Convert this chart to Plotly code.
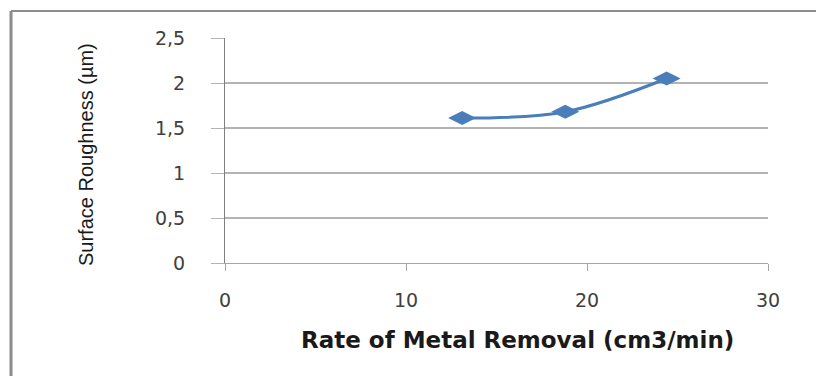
import plotly.graph_objects as go

# Measured series
removal_rate = [13.1, 18.8, 24.4]          # cm3/min
roughness = [1.61, 1.68, 2.05]             # µm

x_ticks = [0, 10, 20, 30]
y_ticks = [0, 0.5, 1, 1.5, 2, 2.5]
y_tick_text = ["0", "0,5", "1", "1,5", "2", "2,5"]

x_title = "Rate of Metal Removal (cm3/min)"
y_title = "Surface Roughness (µm)"

W, H = 816, 376
ML, MR, MT, MB = 225, 48, 38, 113
PW, PH = W - ML - MR, H - MT - MB


def px_to_paper_x(px):
    return (px - ML) / PW


def px_to_paper_y(py):
    return (H - MB - py) / PH


fig = go.Figure()
fig.add_trace(go.Scatter(
    x=removal_rate,
    y=roughness,
    mode="lines+markers",
    line=dict(color="#4a7ebb", width=3, shape="spline"),
    marker=dict(symbol="diamond-wide", size=20, color="#4a7ebb",
                line=dict(width=0)),
    showlegend=False,
    hoverinfo="skip",
))

tick_font = dict(family="DejaVu Sans", size=19, color="#404040")

fig.update_xaxes(
    range=[0, 30],
    tickvals=x_ticks,
    showgrid=False,
    zeroline=False,
    showline=True,
    linecolor="#a6a6a6",
    linewidth=1,
    ticks="outside",
    ticklen=7,
    tickcolor="#a6a6a6",
    tickfont=tick_font,
    ticklabelstandoff=13,
    fixedrange=True,
)
fig.update_yaxes(
    range=[0, 2.5],
    tickvals=y_ticks,
    ticktext=y_tick_text,
    showgrid=True,
    gridcolor="#b4b4b4",
    gridwidth=1.5,
    zeroline=False,
    showline=True,
    linecolor="#7f7f7f",
    linewidth=1,
    ticks="outside",
    ticklen=13,
    tickcolor="#b4b4b4",
    tickfont=tick_font,
    ticklabelstandoff=22,
    fixedrange=True,
)

fig.update_layout(
    width=W,
    height=H,
    margin=dict(l=ML, r=MR, t=MT, b=MB, pad=0),
    paper_bgcolor="white",
    plot_bgcolor="white",
    annotations=[
        dict(text=f"<b>{x_title}</b>", xref="paper", yref="paper",
             x=px_to_paper_x(517), y=px_to_paper_y(340),
             xanchor="center", yanchor="middle", showarrow=False,
             font=dict(family="DejaVu Sans", size=23, color="#1a1a1a")),
        dict(text=y_title, xref="paper", yref="paper",
             x=px_to_paper_x(86), y=px_to_paper_y(155),
             xanchor="center", yanchor="middle", showarrow=False,
             textangle=-90,
             font=dict(family="Liberation Sans", size=20, color="#1a1a1a")),
    ],
    shapes=[
        # chart frame (left and top edges)
        dict(type="line", xref="paper", yref="paper",
             x0=px_to_paper_x(11), x1=px_to_paper_x(11),
             y0=px_to_paper_y(11), y1=px_to_paper_y(H + 5),
             line=dict(color="#8c8c8c", width=3)),
        dict(type="line", xref="paper", yref="paper",
             x0=px_to_paper_x(11), x1=px_to_paper_x(W + 5),
             y0=px_to_paper_y(11), y1=px_to_paper_y(11),
             line=dict(color="#8c8c8c", width=2)),
    ],
)

fig.write_html("out.html")
